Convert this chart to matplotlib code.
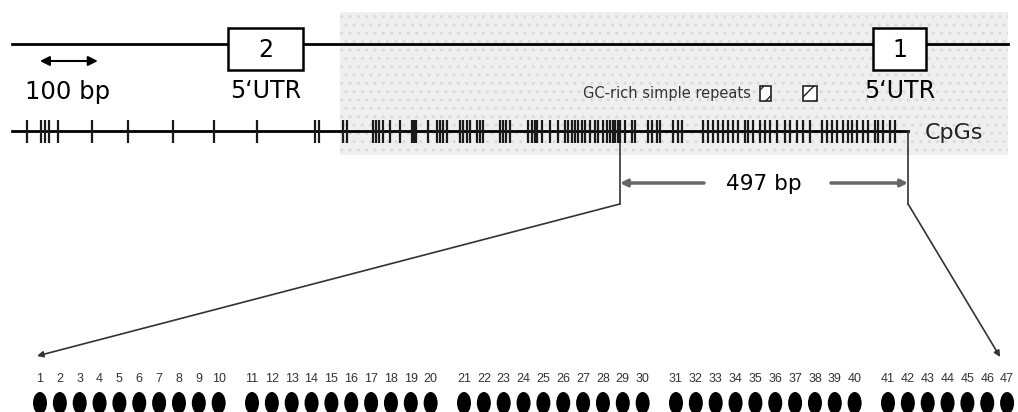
import matplotlib
matplotlib.use("Agg")
import matplotlib.pyplot as plt
from matplotlib.patches import Rectangle, Ellipse

W, H = 1018, 412
PX_PER_BP = 0.58
MAP_X0 = 12  # pixel where bp 0 of the map sits

# ## Data ##
# CpG positions along the map (bp from left end)
CPG_BP = [26, 50, 57, 64, 79, 138, 200, 278, 348, 422, 522, 529,
          571, 578, 622, 628, 633, 640, 652, 669, 690, 693, 697, 717,
          733, 738, 743, 750, 772, 778, 784, 790, 802, 807, 812, 841,
          847, 852, 859, 890, 897, 902, 905, 914, 928, 941, 953, 959,
          966, 971, 976, 983, 988, 997, 1005, 1010, 1019, 1026, 1031,
          1036, 1040, 1045,
          1048, 1057, 1069, 1074, 1097, 1103, 1112, 1117, 1140, 1148,
          1155, 1191, 1200, 1209, 1217, 1226, 1234, 1243, 1252, 1264,
          1269, 1278, 1290, 1298, 1307, 1319, 1333, 1341, 1353, 1364,
          1376, 1397, 1405, 1414, 1422, 1433, 1441, 1448, 1457, 1467,
          1476, 1488, 1493, 1502, 1514, 1522]
MAP_END_BP = 1717
CPG_LINE_END_BP = 1545

EXON_NAMES = ["2", "1"]
EXON_START_BP = [372, 1484]
EXON_END_BP = [502, 1576]

GC_REPEAT_START_BP = [1290, 1364]
GC_REPEAT_END_BP = [1309, 1388]

ISLAND_START_BP = 566       # shaded CpG-island region
REGION_START_BP = 1048      # analysed fragment
REGION_LEN_BP = 497
SCALE_BAR_BP = 100

CPG_NUMBERS = list(range(1, 48))
GROUP_SIZE = 10
GROUP_GAP = 0.68            # extra slot space between groups of ten

# ## Figure ##
fig = plt.figure(figsize=(W / 100, H / 100), dpi=100)
ax = fig.add_axes([0, 0, 1, 1])
ax.set_xlim(-MAP_X0 / PX_PER_BP, (W - MAP_X0) / PX_PER_BP)
ax.set_ylim(H, 0)
ax.set_axis_off()

# bottom row of CpG dots, x in slot units
ax_row = fig.add_axes([0, 0, 1, 1])
slot_px = 19.85
ax_row.set_xlim(-40 / slot_px, (W - 40) / slot_px)
ax_row.set_ylim(H, 0)
ax_row.set_axis_off()
ax_row.patch.set_alpha(0)

# shaded island
ax.add_patch(Rectangle((ISLAND_START_BP, 12), MAP_END_BP - ISLAND_START_BP, 143,
                       facecolor="#efefef", edgecolor="#dadada", hatch="..",
                       linewidth=0, zorder=0))

# gene line with exons
ax.plot([0, MAP_END_BP], [44, 44], color="black", lw=2, zorder=1)
for name, s, e in zip(EXON_NAMES, EXON_START_BP, EXON_END_BP):
    ax.add_patch(Rectangle((s, 28), e - s, 42, facecolor="white",
                           edgecolor="black", lw=1.8, zorder=2))
    ax.text((s + e) / 2, 50, name, ha="center", va="center", fontsize=17, zorder=3)
    ax.text((s + e) / 2, 91, "5\u2018UTR", ha="center", va="center", fontsize=17)

# scale bar
ax.annotate("", xy=(48, 61), xytext=(48 + SCALE_BAR_BP, 61),
            arrowprops=dict(arrowstyle="<|-|>", lw=1.5, color="black",
                            mutation_scale=14, shrinkA=0, shrinkB=0))
ax.text(45 + SCALE_BAR_BP / 2, 92, f"{SCALE_BAR_BP} bp", ha="center",
        va="center", fontsize=17.5)

# GC-rich simple repeats
ax.text(GC_REPEAT_START_BP[0] - 16, 93, "GC-rich simple repeats", ha="right",
        va="center", fontsize=10.5, color="#333333")
for s, e in zip(GC_REPEAT_START_BP, GC_REPEAT_END_BP):
    ax.add_patch(Rectangle((s, 86), e - s, 15, facecolor="white",
                           edgecolor="#222222", hatch="//", lw=1.2, zorder=2))

# CpG line
ax.plot([0, CPG_LINE_END_BP], [131, 131], color="black", lw=2, zorder=2)
ax.vlines(CPG_BP, 120, 143, color="#1a1a1a", lw=1.6, zorder=3)
ax.text(1574, 133, "CpGs", ha="left", va="center", fontsize=16, color="#222222")

# 497 bp fragment
region_end = REGION_START_BP + REGION_LEN_BP
for x in [REGION_START_BP, region_end]:
    ax.plot([x, x], [131, 204], color="#333333", lw=1.2)
ax.annotate("", xy=(REGION_START_BP, 183), xytext=(1193, 183),
            arrowprops=dict(arrowstyle="-|>", lw=2.5, color="#666666",
                            mutation_scale=10, shrinkA=0, shrinkB=0))
ax.annotate("", xy=(region_end, 183), xytext=(1412, 183),
            arrowprops=dict(arrowstyle="-|>", lw=2.5, color="#666666",
                            mutation_scale=10, shrinkA=0, shrinkB=0))
ax.text((REGION_START_BP + region_end) / 2, 184, f"{REGION_LEN_BP} bp",
        ha="center", va="center", fontsize=15.5)


def slot(n):
    """Slot position of CpG number n in the bottom row."""
    i = n - 1
    return i + GROUP_GAP * (i // GROUP_SIZE)


# connectors to the bottom row
ax.annotate("", xy=(slot(1) - 0.15, 356), xycoords=ax_row.transData,
            xytext=(REGION_START_BP, 204), textcoords="data",
            arrowprops=dict(arrowstyle="-|>", lw=1.2, color="#333333",
                            mutation_scale=9, shrinkA=0, shrinkB=0))
ax.annotate("", xy=(slot(47) - 0.35, 357), xycoords=ax_row.transData,
            xytext=(region_end, 204), textcoords="data",
            arrowprops=dict(arrowstyle="-|>", lw=1.2, color="#333333",
                            mutation_scale=9, shrinkA=0, shrinkB=0))

# numbered CpG dots
for n in CPG_NUMBERS:
    x = slot(n)
    ax_row.text(x, 379, str(n), ha="center", va="center", fontsize=9,
                family="Liberation Sans", color="#333333")
    ax_row.add_patch(Ellipse((x, 403), 14 / slot_px, 22, facecolor="black",
                             edgecolor="none"))

fig.savefig("out.png", dpi=100)
